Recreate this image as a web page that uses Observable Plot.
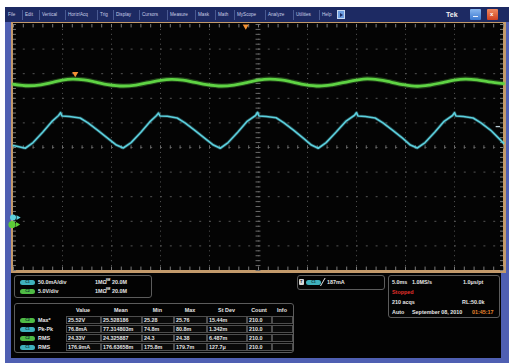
<!DOCTYPE html>
<html><head><meta charset="utf-8">
<script src="https://cdn.jsdelivr.net/npm/d3@7"></script>
<script src="https://cdn.jsdelivr.net/npm/@observablehq/plot@0.6"></script>
<style>
html,body{margin:0;padding:0;background:#fff;}
body{width:509px;height:363px;position:relative;overflow:hidden;font-family:"Liberation Sans",Arial,sans-serif;}
.a{position:absolute;}
#blue{left:5px;top:7px;width:504px;height:356px;background:#4f5fb2;}
#menu{left:5px;top:7px;width:504px;height:15px;background:#1d2a63;}
#tan{left:11px;top:22px;width:495px;height:251px;background:#c39a6b;}
#scope{left:13px;top:23px;width:490px;height:247px;background:#040404;}
#panel{left:11px;top:273px;width:490px;height:85px;background:#030303;}
#plot{left:5px;top:22px;}
.mi{position:absolute;top:12px;font-size:4.6px;line-height:5px;color:#c9cde6;white-space:nowrap;}
.sep{position:absolute;top:10px;width:1px;height:10px;background:#4a5a92;}
.box{position:absolute;border:1px solid #5c5c5c;border-radius:3px;box-sizing:border-box;}
.t{position:absolute;font-size:5.4px;line-height:6px;font-weight:bold;color:#e6e6e6;white-space:nowrap;}
.badge{position:absolute;width:15px;height:5px;border-radius:2.5px;font-size:3.6px;line-height:5px;text-align:center;color:#08323a;font-weight:bold;}
.cell{position:absolute;height:8px;border:1px solid #4e4e4e;box-sizing:border-box;background:#0b0b0b;}
</style></head>
<body>
<div id="blue" class="a"></div>
<div id="menu" class="a"></div>
<div id="tan" class="a"></div>
<div id="scope" class="a"></div>
<div id="panel" class="a"></div>
<div id="plot" class="a"></div>
<script>
// ---------------- data ----------------
const menuLabels = ["File","Edit","Vertical","Horiz/Acq","Trig","Display","Cursors","Measure","Mask","Math","MyScope","Analyze","Utilities","Help"];
// channel 1 (current, cyan) trace in divisions, time in ms
const cyanT = [0,1.2,2.0,3.0,3.9,4.6,4.8,4.95,5.7,6.8,7.6,8.6,9.6,10.5,
  11.2,12.0,13.0,13.9,14.6,14.8,14.95,15.7,16.7,17.5,18.5,19.5,20.4,
  21.1,21.9,22.9,23.8,24.7,24.9,25.05,25.8,26.8,27.6,28.6,29.6,30.4,
  31.1,31.9,32.9,33.9,34.8,35.0,35.15,35.9,36.9,37.7,38.7,39.7,40.5,
  41.2,42.0,43.0,43.9,44.8,45.0,45.15,45.9,46.9,47.7,48.7,49.5,50];
const cyanV = [5.08,4.97,5.2,5.63,6.05,6.3,6.42,6.28,6.26,6.2,6.0,5.7,5.38,5.1,
  4.98,5.2,5.62,6.04,6.3,6.4,6.28,6.27,6.2,6.0,5.7,5.38,5.1,
  4.97,5.2,5.63,6.05,6.3,6.43,6.28,6.26,6.21,6.0,5.7,5.37,5.1,
  4.97,5.2,5.62,6.06,6.31,6.42,6.28,6.26,6.2,6.0,5.7,5.38,5.1,
  4.98,5.2,5.63,6.05,6.3,6.42,6.28,6.26,6.2,6.0,5.7,5.38,5.18];
// channel 2 (voltage, green) trace in divisions
const greenT = [0,1.5,2.8,4.0,5.0,6.0,7.2,8.4,9.6,11.2,12.5,13.8,15.0,16.1,17.3,18.5,19.7,
  21.2,22.5,23.8,25.0,26.1,27.3,28.5,29.7,31.2,32.5,33.8,35.0,36.1,37.3,38.5,39.7,
  41.2,42.5,43.8,45.0,46.1,47.3,48.5,50];
const greenV = [7.57,7.51,7.55,7.65,7.74,7.78,7.75,7.66,7.56,7.5,7.54,7.64,7.73,7.77,7.74,7.65,7.56,
  7.5,7.54,7.64,7.74,7.78,7.75,7.66,7.56,7.5,7.55,7.65,7.74,7.79,7.75,7.66,7.56,
  7.49,7.54,7.64,7.74,7.78,7.75,7.67,7.6];
const xMajor = [0,5,10,15,20,25,30,35,40,45,50];
const yMajor = [0,1,2,3,4,5,6,7,8,9,10];
const trigMarkT = [23.7, 6.3];
const trigMarkV = [9.93, 8.0];
const trigLevel = 5.85;
const gndCyan = 2.15, gndGreen = 1.87;

const chanScale = ["50.0mA/div","5.0V/div"];
const chanTerm = ["1MΩ","1MΩ"];
const chanBW = ["20.0M","20.0M"];
const measHead = ["Value","Mean","Min","Max","St Dev","Count","Info"];
const measName = ["Max*","Pk-Pk","RMS","RMS"];
const measChan = [2,1,2,1];
const measValue = ["25.52V","76.8mA","24.33V","176.9mA"];
const measMean = ["25.528186","77.314803m","24.325887","176.63658m"];
const measMin = ["25.28","74.8m","24.3","175.8m"];
const measMax = ["25.76","80.8m","24.38","179.7m"];
const measStd = ["15.44m","1.342m","6.487m","127.7μ"];
const measCount = ["210.0","210.0","210.0","210.0"];
const trigText = "187mA";
const hRow1 = ["5.0ms","1.0MS/s","1.0μs/pt"];
const state = "Stopped";
const hRow3 = ["210 acqs","RL:50.0k"];
const hRow4 = ["Auto","September 08, 2010","01:45:17"];

// ---------------- colors ----------------
const CYAN = "#5cd0de", GREEN = "#5fd344";

// ---------------- menu bar ----------------
const menu = document.getElementById("menu");
const menuX = [3,20,37,63,95,111,137,165,193,213,232,263,291,317];
menuLabels.forEach((m,i)=>{
  const s=document.createElement("div");s.className="mi";s.style.left=menuX[i]+"px";s.style.top="5px";s.textContent=m;menu.appendChild(s);
  if(i>0){const p=document.createElement("div");p.className="sep";p.style.left=(menuX[i]-3)+"px";p.style.top="3px";menu.appendChild(p);}
});
function addDiv(parent, css, text){const d=document.createElement("div");d.style.cssText=css;if(text!=null)d.textContent=text;parent.appendChild(d);return d;}
addDiv(menu,"position:absolute;left:332px;top:3px;width:8px;height:9px;background:#6a9be0;border:1px solid #c8d8f0;box-sizing:border-box;");
addDiv(menu,"position:absolute;left:335px;top:6px;width:0;height:0;border-left:3px solid #1d2a63;border-top:2px solid transparent;border-bottom:2px solid transparent;");
addDiv(menu,"position:absolute;left:441px;top:4px;font-size:7px;line-height:8px;font-weight:bold;color:#f2f2f2;","Tek");
addDiv(menu,"position:absolute;left:465px;top:2px;width:11px;height:11px;background:linear-gradient(#8ab8f0,#3a78d0);border-radius:1px;");
addDiv(menu,"position:absolute;left:468px;top:9px;width:5px;height:1px;background:#e8f0ff;");
addDiv(menu,"position:absolute;left:482px;top:2px;width:11px;height:11px;background:linear-gradient(#f08a60,#d04020);border-radius:1px;");
addDiv(menu,"position:absolute;left:485px;top:3px;font-size:6px;line-height:8px;color:#fff;font-weight:bold;","x");

// ---------------- scope plot ----------------
const cyanData = cyanT.map((t,i)=>({t, v: cyanV[i]}));
const greenData = greenT.map((t,i)=>({t, v: greenV[i]}));
const trigData = trigMarkT.map((t,i)=>({t, v: trigMarkV[i]}));
const minorX = d3.range(0, 50.001, 1);
const minorY = d3.range(0, 10.001, 0.2);
const GRID = "#555";
const plot = Plot.plot({
  width: 504, height: 251,
  marginLeft: 8, marginRight: 6, marginTop: 2, marginBottom: 3,
  style: {background: "transparent", overflow: "visible"},
  x: {domain: [0, 50], axis: null},
  y: {domain: [0, 10], axis: null},
  marks: [
    Plot.ruleX(xMajor.slice(1, -1), {stroke: GRID, strokeDasharray: "1,3.92", strokeWidth: 1}),
    Plot.ruleY(yMajor.slice(1, -1), {stroke: GRID, strokeDasharray: "2,7.8", strokeWidth: 1}),
    Plot.ruleX(minorX, {y1: 4.93, y2: 5.07, stroke: "#6a6a6a"}),
    Plot.ruleY(minorY, {x1: 24.75, x2: 25.25, stroke: "#6a6a6a"}),
    Plot.ruleX(minorX, {y1: 10, y2: 9.86, stroke: "#7a7a7a"}),
    Plot.ruleX(minorX, {y1: 0, y2: 0.14, stroke: "#7a7a7a"}),
    Plot.ruleY(minorY, {x1: 0, x2: 0.3, stroke: "#7a7a7a"}),
    Plot.ruleY(minorY, {x1: 50, x2: 49.7, stroke: "#7a7a7a"}),
    Plot.line(greenData, {x: "t", y: "v", stroke: GREEN, strokeWidth: 5, strokeOpacity: 0.3, curve: "catmull-rom"}),
    Plot.line(greenData, {x: "t", y: "v", stroke: GREEN, strokeWidth: 2.8, curve: "catmull-rom"}),
    Plot.line(cyanData, {x: "t", y: "v", stroke: CYAN, strokeWidth: 3.2, strokeOpacity: 0.3}),
    Plot.line(cyanData, {x: "t", y: "v", stroke: CYAN, strokeWidth: 1.6}),
    Plot.dot(trigData, {x: "t", y: "v", symbol: "triangle", rotate: 180, fill: "#f39034", r: 2.3}),
    Plot.ruleY([trigLevel], {x1: 49.25, x2: 49.7, stroke: "#b8ccd4", strokeWidth: 1.3}),
    Plot.dot([gndCyan], {x: -0.05, y: d => d, fill: CYAN, r: 3}),
    Plot.dot([gndCyan], {x: 0.45, y: d => d, symbol: "triangle", rotate: 90, fill: CYAN, r: 1.8}),
    Plot.dot([gndGreen], {x: -0.15, y: d => d, fill: "#5ccc36", r: 3.6}),
    Plot.dot([gndGreen], {x: 0.4, y: d => d, symbol: "triangle", rotate: 90, fill: "#5ccc36", r: 1.8})
  ]
});
document.getElementById("plot").appendChild(plot);

// ---------------- bottom panel ----------------
const body = document.body;
function box(l,t,w,h){addDiv(body,`position:absolute;left:${l}px;top:${t}px;width:${w}px;height:${h}px;border:1px solid #5c5c5c;border-radius:3px;box-sizing:border-box;`);}
function txt(l,t,s,color,extra){const d=addDiv(body,`position:absolute;left:${l}px;top:${t}px;font-size:5.4px;line-height:6px;font-weight:bold;color:${color||"#e6e6e6"};white-space:nowrap;${extra||""}`,s);return d;}
function badge(l,t,ch){addDiv(body,`position:absolute;left:${l}px;top:${t}px;width:15px;height:5px;border-radius:2.5px;background:${ch===1?"#3fb1bd":"#4fbb45"};font-size:3.6px;line-height:5px;text-align:center;color:#062a30;font-weight:bold;`,"C"+ch);}
// channel box
box(14,275,138,23);
[1,2].forEach((ch,i)=>{
  const y = 279 + i*9;
  badge(20,y+0.5,ch);
  txt(38,y,chanScale[i]);
  txt(95,y,chanTerm[i]);
  txt(106,y-1,"ᴮᵂ","#e6e6e6","font-size:4px;");
  txt(112,y,chanBW[i]);
});
// measurement table
box(14,303,280,50);
const colL = [66,101,142,174,207,247,272];
const colR = [100,141,173,206,246,271,292];
measHead.forEach((h,j)=>{
  txt(colL[j],307,h,null,`width:${colR[j]-colL[j]}px;text-align:center;`);
});
const cols = [measValue,measMean,measMin,measMax,measStd,measCount];
measName.forEach((n,i)=>{
  const y = 316 + i*9;
  badge(20,y+1.5,measChan[i]);
  txt(38,y+1,n);
  colL.forEach((l,j)=>{
    addDiv(body,`position:absolute;left:${l}px;top:${y}px;width:${colR[j]-l+1}px;height:8px;border:1px solid #4e4e4e;box-sizing:border-box;background:#0a0a0a;`);
    if(j<cols.length) txt(l+2,y+1,cols[j][i]);
  });
});
// trigger box
box(297,275,88,15);
addDiv(body,"position:absolute;left:299px;top:279px;width:5px;height:6px;background:#d8d8d8;border-radius:1px;");
addDiv(body,"position:absolute;left:300px;top:279px;font-size:4px;line-height:6px;color:#111;font-weight:bold;","T");
badge(306,280,1);
addDiv(body,"position:absolute;left:320px;top:278px;width:1px;height:8px;background:#e6e6e6;transform:skewX(-30deg);transform-origin:bottom;");
txt(327,279,trigText);
// horizontal box
box(388,275,112,43);
txt(392,279,hRow1[0]); txt(412,279,hRow1[1]); txt(463,279,hRow1[2]);
txt(392,289,state,"#e0302a");
txt(392,299,hRow3[0]); txt(462,299,hRow3[1]);
txt(392,309,hRow4[0]); txt(412,309,hRow4[1]); txt(472,309,hRow4[2],"#e9852e");
</script>
</body></html>
